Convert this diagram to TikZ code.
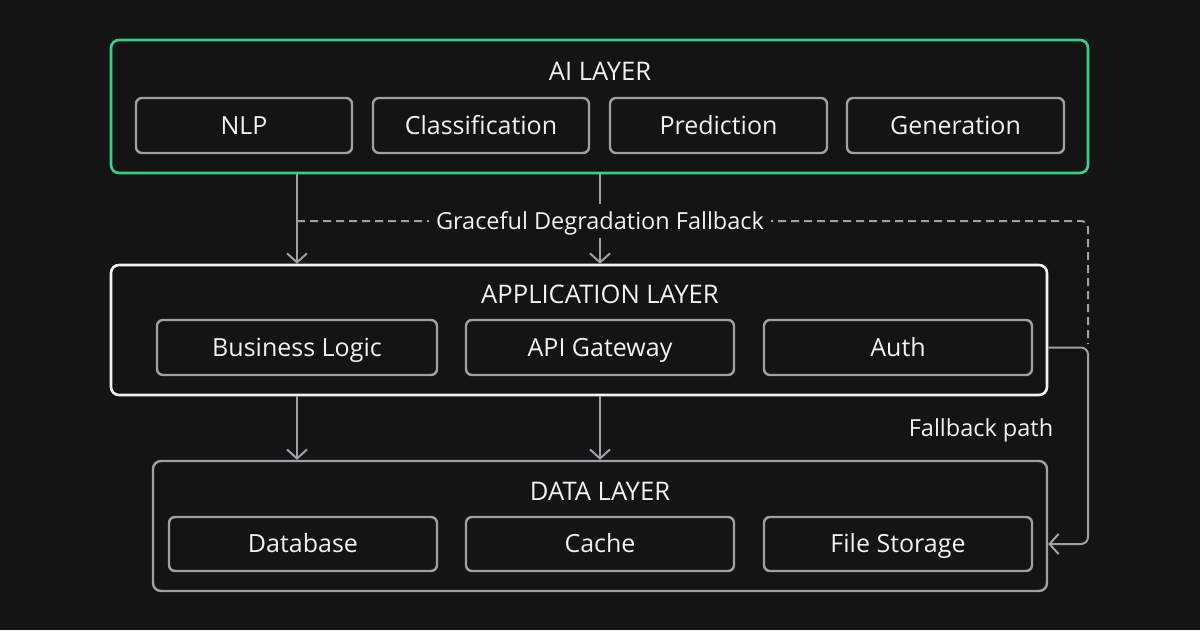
\documentclass[tikz,border=0pt]{standalone}
\usepackage{fontspec}
\setmainfont{Open Sans}
\usetikzlibrary{arrows.meta}
\definecolor{bg}{HTML}{141414}
\definecolor{aigreen}{HTML}{34D08C}
\definecolor{boxgray}{HTML}{9CA1A6}
\definecolor{txt}{HTML}{F2F2F2}
\tikzset{
  layerbox/.style={draw, line width=2.6pt, rounded corners=8pt, fill=bg, inner sep=0pt},
  itembox/.style={draw=boxgray, line width=2.4pt, rounded corners=6pt, fill=bg, text=txt,
    font=\fontsize{25}{30}\selectfont, minimum height=55pt, inner sep=0pt,
    text height=17.85pt, text depth=0pt},
  ttl/.style={text=txt, font=\fontsize{25.6}{30}\selectfont, inner sep=0pt,
    text height=18.3pt, text depth=0pt},
  lbl/.style={text=txt, font=\fontsize{23.5}{28}\selectfont, text height=16.8pt, text depth=0pt},
  arr/.style={draw=boxgray, line width=2pt, -{Straight Barb[length=9pt,width=20pt,line width=2pt]}},
  dashline/.style={draw=boxgray, line width=2pt, dash pattern=on 8pt off 5pt, rounded corners=7pt},
  pathline/.style={draw=boxgray, line width=2pt, rounded corners=7pt}
}
\begin{document}
\begin{tikzpicture}[x=1pt,y=-1pt]
\fill[bg] (0,0) rectangle (1200,630);
\useasboundingbox (0,0) rectangle (1200,630);

% layers
\node[layerbox, draw=aigreen, minimum width=977pt, minimum height=133pt] (ai) at (599.5,106.5) {};
\node[layerbox, draw=txt, minimum width=936pt, minimum height=130pt] (app) at (579,330) {};
\node[layerbox, draw=boxgray, line width=2.4pt, minimum width=894pt, minimum height=130pt] (data) at (600,526) {};

% titles
\node[ttl] (aititle) at (600,71) {AI LAYER};
\node[ttl] (apptitle) at (600,294) {APPLICATION LAYER};
\node[ttl] (datatitle) at (600,491) {DATA LAYER};

% AI items
\node[itembox, minimum width=216pt] (nlp) at (244,125.5) {NLP};
\node[itembox, minimum width=216pt] (cls) at (481,125.5) {Classification};
\node[itembox, minimum width=217pt] (pred) at (718.5,125.5) {Prediction};
\node[itembox, minimum width=217pt] (gen) at (955.5,125.5) {Generation};

% App items
\node[itembox, minimum width=280pt] (biz) at (297,347.5) {Business Logic};
\node[itembox, minimum width=268pt] (apigw) at (600,347.5) {API Gateway};
\node[itembox, minimum width=268pt] (auth) at (898,347.5) {Auth};

% Data items
\node[itembox, minimum width=268pt, minimum height=54pt] (db) at (303,544) {Database};
\node[itembox, minimum width=268pt, minimum height=54pt] (cache) at (600,544) {Cache};
\node[itembox, minimum width=268pt, minimum height=54pt] (fs) at (898,544) {File Storage};

% helper coordinates
\coordinate (lx) at (297,0);
\coordinate (mx) at (600,0);
\coordinate (fbx) at (1088,0);
\coordinate (dashstart) at (297,221);
\coordinate (dashend) at (1088,344);

% fallback dashed line
\draw[dashline] (dashstart) -| (dashend);

% AI -> App arrows
\draw[arr] (ai.south -| lx) -- (app.north -| lx);
\draw[arr] (ai.south -| mx) -- (app.north -| mx);

% label over the dashed line
\node[lbl, fill=bg, inner xsep=7pt, inner ysep=9pt] (grace) at (600,221) {Graceful Degradation Fallback};

% App -> Data arrows
\draw[arr] (app.south -| lx) -- (data.north -| lx);
\draw[arr] (app.south -| mx) -- (data.north -| mx);

% fallback path
\draw[pathline, -{Straight Barb[length=9pt,width=20pt,line width=2pt]}]
  (auth -| app.east) -- (auth -| fbx) -- (fs -| fbx) -- (fs -| data.east);
\node[lbl] (fblabel) at (981,428) {Fallback path};
\end{tikzpicture}
\end{document}
